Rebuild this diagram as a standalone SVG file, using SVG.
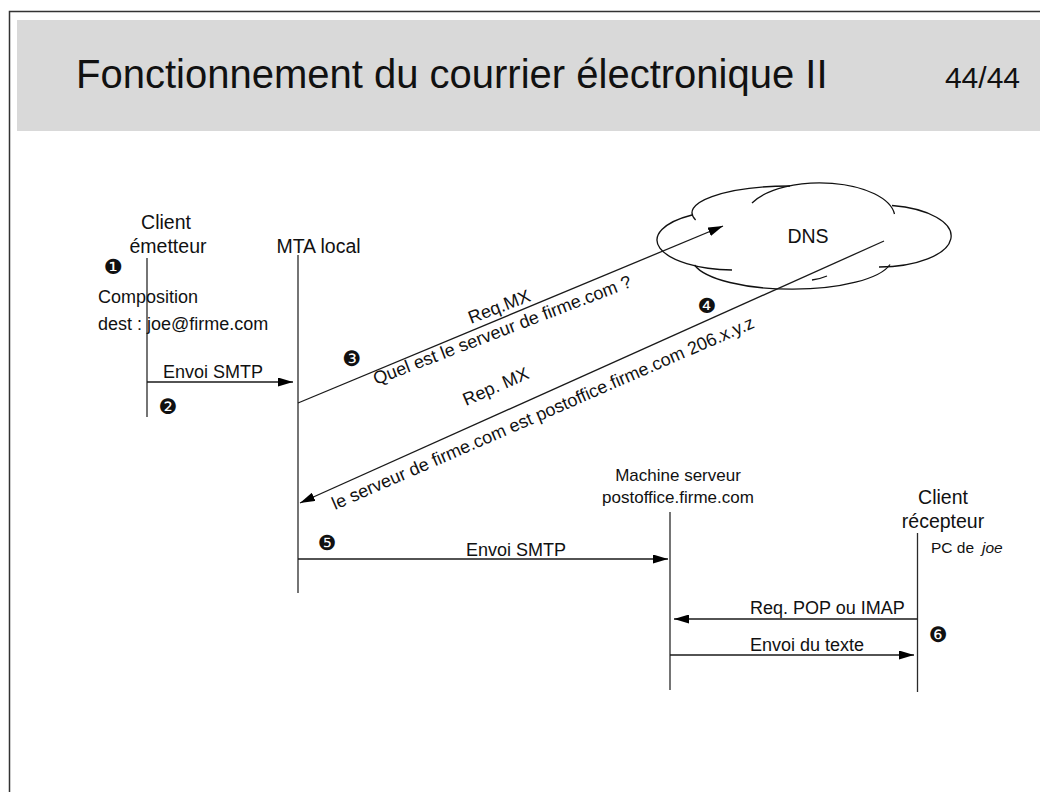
<svg xmlns="http://www.w3.org/2000/svg" width="1040" height="792" viewBox="0 0 1040 792">
  <style>
    text { font-family: "Liberation Sans", Arial, sans-serif; fill: #111; }
    .title { font-size: 40px; }
    .page { font-size: 30px; }
    .head { font-size: 19.5px; text-anchor: middle; }
    .small { font-size: 17px; text-anchor: middle; }
    .lbl { font-size: 18px; }
    .num { font-family: "DejaVu Sans", sans-serif; font-size: 21px; text-anchor: middle; dominant-baseline: central; }
    .life { stroke: #2a2a2a; stroke-width: 1.3; fill: none; }
    .msg { stroke: #1a1a1a; stroke-width: 1.3; fill: none; marker-end: url(#arrow); }
    .cloud path { stroke: #111; stroke-width: 1.3; fill: none; }
  </style>
  <defs>
    <marker id="arrow" markerUnits="userSpaceOnUse" markerWidth="15" markerHeight="9" refX="15" refY="4.5" orient="auto">
      <path d="M0,0 L15,4.5 L0,9 z" fill="#000"/>
    </marker>
  </defs>

  <rect width="1040" height="792" fill="#fff"/>

  <!-- slide frame and header band -->
  <g id="header">
    <path d="M9.5 792 V11.5 H1040" stroke="#333" stroke-width="1.5" fill="none"/>
    <rect x="17" y="20" width="1023" height="111" fill="#d9d9d9"/>
    <text class="title" x="76" y="88">Fonctionnement du courrier électronique II</text>
    <text class="page" x="1020" y="88" text-anchor="end">44/44</text>
  </g>

  <!-- sending client -->
  <g id="client-emetteur">
    <text class="head" x="166" y="229">Client</text>
    <text class="head" x="168" y="253">émetteur</text>
    <path class="life" d="M147 258 V417"/>
    <text class="num" x="113" y="267">❶</text>
    <text class="lbl" x="98" y="303">Composition</text>
    <text class="lbl" x="98" y="330">dest : joe@firme.com</text>
    <text class="num" x="168" y="407">❷</text>
  </g>

  <!-- local MTA -->
  <g id="mta-local">
    <text class="head" x="318.5" y="253">MTA local</text>
    <path class="life" d="M298 255 V593"/>
  </g>

  <!-- DNS cloud -->
  <g id="dns" class="cloud">
    <path d="M692 215 A78 30 0 0 0 732 270"/>
    <path d="M695.6 220 A98 26.8 0 0 1 790 186"/>
    <path d="M752 203 A75 35 0 0 1 894.5 214"/>
    <path d="M892 205.5 A72 31 0 0 1 879 267"/>
    <path d="M694.5 265 A100 31 0 0 0 890 264.5"/>
    <path d="M812 280 Q820 279 827 276"/>
    <text class="head" x="808" y="243">DNS</text>
  </g>

  <!-- mail server host -->
  <g id="serveur">
    <text class="small" x="678" y="480.5">Machine serveur</text>
    <text class="small" x="678" y="502.5">postoffice.firme.com</text>
    <path class="life" d="M670 512 V690"/>
  </g>

  <!-- receiving client -->
  <g id="client-recepteur">
    <text class="head" x="943" y="504">Client</text>
    <text class="head" x="943" y="528">récepteur</text>
    <path class="life" d="M917.5 533 V692"/>
    <text x="931" y="553" font-size="15.5">PC de <tspan x="982" font-style="italic">joe</tspan></text>
    <text class="num" x="938" y="635">❻</text>
  </g>

  <!-- messages -->
  <g id="connectors">
    <path class="msg" d="M147 382 H293"/>
    <path class="msg" d="M298 403 L723 226"/>
    <path class="msg" d="M884 241 L300 503"/>
    <path class="msg" d="M298 559 H668"/>
    <path class="msg" d="M917.5 619 H674"/>
    <path class="msg" d="M670 655 H914"/>
  </g>

  <!-- message labels -->
  <g id="labels">
    <text class="lbl" x="163" y="378">Envoi SMTP</text>

    <text class="num" x="352" y="359">❸</text>
    <text class="lbl" transform="translate(471 324) rotate(-21)">Req.MX</text>
    <text class="lbl" transform="translate(376 385) rotate(-21)">Quel est le serveur de firme.com ?</text>

    <text class="num" x="707" y="305.5">❹</text>
    <text class="lbl" transform="translate(466 406) rotate(-23.5)">Rep. MX</text>
    <text class="lbl" transform="translate(335 510) rotate(-23.5)">le serveur de firme.com est postoffice.firme.com 206.x.y.z</text>

    <text class="num" x="327" y="543">❺</text>
    <text class="lbl" x="516" y="555.5" text-anchor="middle">Envoi SMTP</text>

    <text class="lbl" x="750" y="614">Req. POP ou IMAP</text>
    <text class="lbl" x="750" y="651">Envoi du texte</text>
  </g>
</svg>
